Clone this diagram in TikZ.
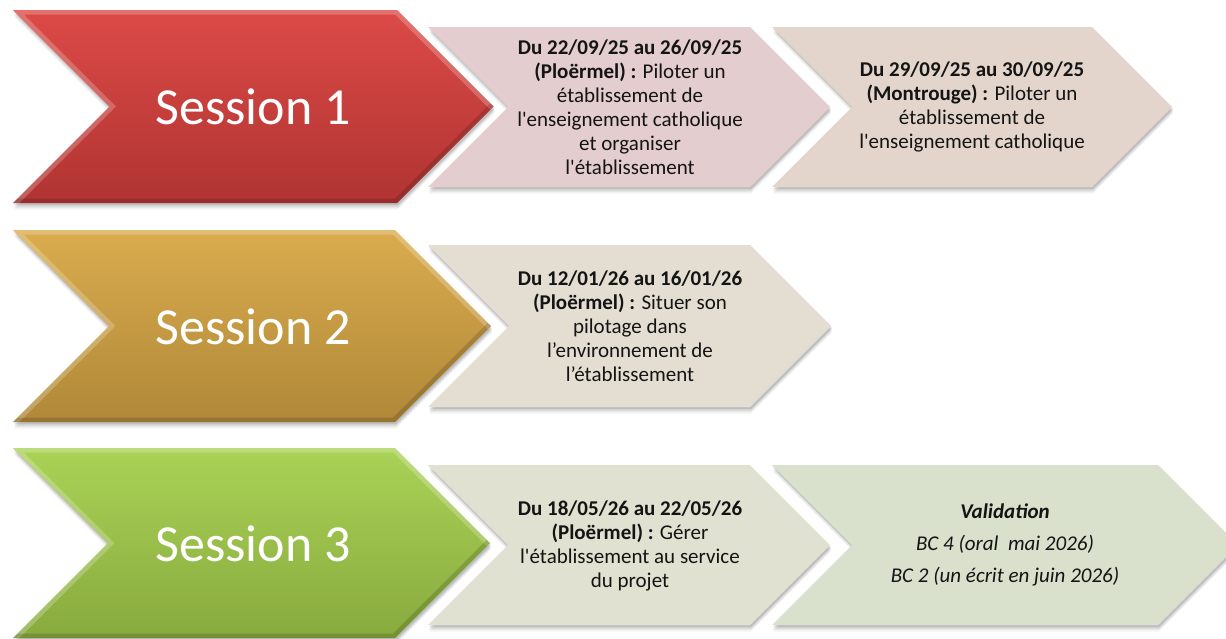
\documentclass[tikz,border=0pt]{standalone}
\usepackage{fontspec}
\setmainfont{Carlito}
\definecolor{sAtop}{RGB}{220,74,71}
\definecolor{sAbot}{RGB}{176,52,50}
\definecolor{sBtop}{RGB}{218,172,78}
\definecolor{sBbot}{RGB}{176,136,56}
\definecolor{sCtop}{RGB}{170,210,86}
\definecolor{sCbot}{RGB}{136,170,62}
\definecolor{bA}{RGB}{227,205,206}
\definecolor{bB}{RGB}{227,213,204}
\definecolor{bC}{RGB}{227,221,210}
\definecolor{bD}{RGB}{224,225,208}
\definecolor{bE}{RGB}{217,224,204}
\definecolor{ink}{RGB}{20,20,20}
\tikzset{
  sesslabel/.style={text=white,font=\fontsize{52}{60}\selectfont,inner sep=0pt},
  boxtext/.style={text=ink,align=center,font=\fontsize{21}{24}\selectfont,inner sep=0pt},
}
% #1 fill style, #2 left x, #3 top-right x, #4 top y, #5 bottom y, #6 bevel (1/0)
\newcommand{\chev}[6]{%
  \pgfmathsetmacro{\hd}{(#5-#4)/2}%
  \pgfmathsetmacro{\my}{(#5+#4)/2}%
  \foreach \o/\a in {2/0.10,3.5/0.08,5/0.06,6.5/0.04}{%
    \fill[black,opacity=\a,shift={(1,\o)}] (#2,#4) -- (#3,#4) -- ({#3+\hd},\my) -- (#3,#5) -- (#2,#5) -- ({#2+\hd},\my) -- cycle;}%
  \path[#1] (#2,#4) -- (#3,#4) -- ({#3+\hd},\my) -- (#3,#5) -- (#2,#5) -- ({#2+\hd},\my) -- cycle;
  \ifnum#6=1
  \begin{scope}
    \clip (#2,#4) -- (#3,#4) -- ({#3+\hd},\my) -- (#3,#5) -- (#2,#5) -- ({#2+\hd},\my) -- cycle;
    \draw[white,opacity=.22,line width=9,line join=miter] (#2,#5) -- ({#2+\hd},\my) -- (#2,#4) -- (#3,#4) -- ({#3+\hd},\my);
    \draw[black,opacity=.14,line width=9,line join=miter] ({#3+\hd},\my) -- (#3,#5) -- (#2,#5);
  \end{scope}
  \fi
}
\begin{document}
\begin{tikzpicture}[x=1pt,y=-1pt]
\useasboundingbox (0,0) rectangle (1226,638);
\begin{scope}
\clip (0,0) rectangle (1226,638);
% row 1
\chev{fill=bB}{772}{1092}{27}{187}{0}
\chev{fill=bA}{428}{750}{27}{187}{0}
\chev{top color=sAtop,bottom color=sAbot}{13}{397}{10}{203}{1}
% row 2
\chev{fill=bC}{428}{750}{245}{407}{0}
\chev{top color=sBtop,bottom color=sBbot}{13}{395}{230}{422}{1}
% row 3
\chev{fill=bE}{772}{1158}{465}{625}{0}
\chev{fill=bD}{428}{750}{465}{625}{0}
\chev{top color=sCtop,bottom color=sCbot}{13}{395}{448}{638}{1}
\end{scope}

\node[sesslabel] (s1) at (253,107) {Session 1};
\node[sesslabel] (s2) at (253,327) {Session 2};
\node[sesslabel] (s3) at (253,544) {Session 3};

\node[boxtext] (a1) at (630,107) {\textbf{Du 22/09/25 au 26/09/25}\\\textbf{(Ploërmel) :} Piloter un\\établissement de\\l\textquotesingle enseignement catholique\\et organiser\\l\textquotesingle établissement};
\node[boxtext] (a2) at (972,107) {\textbf{Du 29/09/25 au 30/09/25}\\\textbf{(Montrouge) :} Piloter un\\établissement de\\l\textquotesingle enseignement catholique};
\node[boxtext] (b1) at (630,326) {\textbf{Du 12/01/26 au 16/01/26}\\\textbf{(Ploërmel) :} Situer son\\pilotage dans\\l’environnement de\\l’établissement};
\node[boxtext] (c1) at (630,546) {\textbf{Du 18/05/26 au 22/05/26}\\\textbf{(Ploërmel) :} Gérer\\l\textquotesingle établissement au service\\du projet};
\node[boxtext] (c2) at (1005,545) {\textbf{\itshape Validation}\\[8pt]\itshape BC 4 (oral\ \ mai 2026)\\[8pt]\itshape BC 2 (un écrit en juin 2026)};
\end{tikzpicture}
\end{document}
